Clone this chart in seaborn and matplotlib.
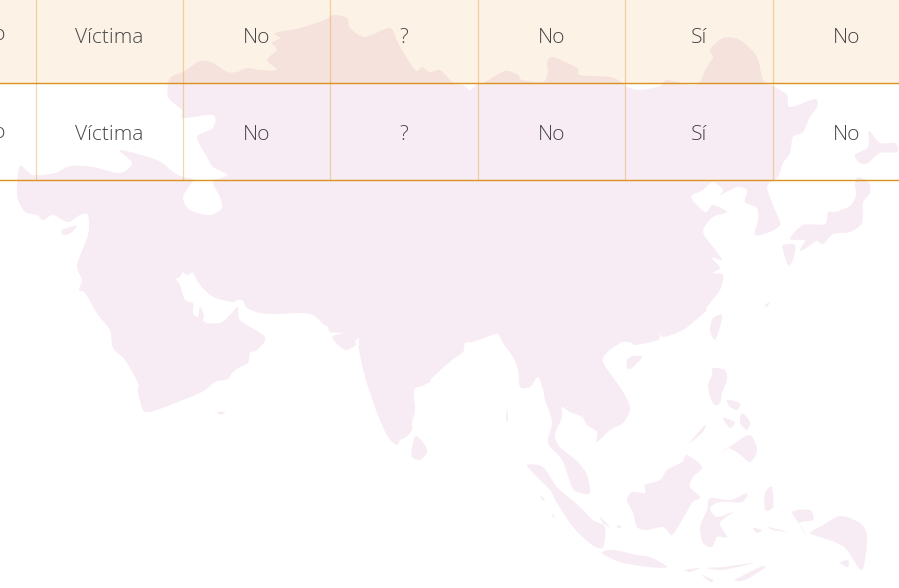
import numpy as np
import matplotlib
matplotlib.use('Agg')
import matplotlib.pyplot as plt
from matplotlib.colors import ListedColormap
from matplotlib.patches import PathPatch
from matplotlib.path import Path
import seaborn as sns

# table contents
row_a = ['', 'Víctima', 'No', '?', 'No', 'Sí', 'No']
row_b = ['', 'Víctima', 'No', '?', 'No', 'Sí', 'No']
row_shade = [[1] * 7, [0] * 7]
cut_label = 'No'

# map outlines, in pixels of the picture
mainland = [(17, 188), (20, 166), (33, 175), (55, 173), (70, 166), (93, 167), (120, 173), (132, 163),
            (120, 150), (157, 160), (173, 172), (183, 177), (193, 180), (183, 197), (190, 210), (210, 215),
            (222, 208), (220, 197), (213, 182), (227, 175), (213, 167), (207, 157), (197, 137), (213, 128),
            (213, 115), (183, 118), (182, 110), (168, 97), (170, 78), (183, 72), (200, 61), (213, 63),
            (227, 72), (237, 72), (247, 68), (260, 70), (277, 70), (267, 60), (277, 50), (272, 43),
            (280, 38), (275, 33), (300, 28), (325, 20), (333, 15), (347, 18), (350, 28), (365, 37),
            (390, 28), (398, 43), (415, 70), (422, 67), (430, 72), (440, 70), (450, 80), (455, 84),
            (463, 85), (470, 90), (476, 85), (485, 82), (505, 71), (518, 75), (522, 80), (543, 82),
            (548, 72), (547, 63), (553, 57), (577, 68), (580, 75), (610, 77), (623, 83), (627, 87),
            (640, 90), (660, 86), (667, 80), (690, 85), (700, 82), (705, 70), (713, 57), (710, 50),
            (723, 38), (740, 40), (757, 57), (763, 80), (775, 87), (787, 95), (790, 107), (815, 99),
            (817, 107), (810, 117), (803, 132), (793, 137), (790, 153), (783, 163), (778, 177), (767, 187),
            (778, 217), (780, 225), (770, 232), (755, 235), (758, 220), (757, 208), (745, 202), (747, 190),
            (737, 187), (720, 195), (723, 190), (713, 182), (703, 190), (691, 197), (705, 212), (713, 205),
            (727, 212), (713, 217), (703, 232), (717, 252), (722, 260), (712, 258), (720, 268), (713, 273),
            (723, 275), (720, 290), (707, 307), (705, 312), (683, 330), (663, 337), (660, 332), (658, 340),
            (635, 345), (632, 343), (623, 342), (610, 350), (603, 362), (622, 390), (630, 408), (623, 423),
            (610, 430), (597, 442), (597, 432), (587, 425), (582, 417), (570, 412), (562, 407), (562, 417),
            (555, 435), (560, 447), (578, 462), (587, 475), (590, 493), (580, 493), (572, 487), (562, 460),
            (548, 443), (552, 422), (545, 400), (543, 390), (538, 377), (530, 387), (520, 387), (518, 370),
            (513, 357), (503, 343), (498, 334), (492, 335), (473, 342), (465, 343), (463, 352), (452, 360),
            (432, 378), (430, 382), (422, 386), (414, 390), (415, 410), (412, 422), (412, 430), (406, 437),
            (400, 440), (397, 445), (388, 437), (377, 413), (365, 377), (359, 350), (359, 338), (355, 342),
            (356, 345), (347, 350), (340, 347), (332, 337), (343, 333), (330, 332), (328, 327), (323, 324),
            (313, 315), (300, 313), (277, 314), (260, 313), (247, 308), (243, 301), (238, 300), (232, 302),
            (213, 297), (200, 285), (193, 273), (187, 275), (183, 272), (180, 277), (176, 279), (180, 285),
            (185, 300), (193, 303), (193, 313), (198, 317), (200, 307), (204, 315), (203, 320), (207, 323),
            (220, 323), (228, 317), (238, 307), (240, 320), (265, 337), (257, 350), (250, 353), (248, 363),
            (240, 367), (232, 373), (228, 379), (215, 382), (200, 393), (157, 410), (148, 412), (143, 410),
            (138, 393), (138, 383), (125, 360), (113, 348), (110, 330), (98, 315), (85, 293), (79, 290),
            (82, 280), (77, 265), (88, 235), (88, 215), (80, 215), (68, 222), (53, 215), (43, 220),
            (37, 215), (25, 212), (18, 200)]
cyprus = [(62, 230), (70, 227), (77, 226), (72, 232), (66, 235), (62, 234)]
sri_lanka = [(416, 436), (425, 445), (427, 453), (420, 460), (412, 457), (412, 447)]
socotra = [(217, 412), (225, 412), (221, 415)]
hokkaido = [(869, 131), (880, 143), (895, 143), (897, 152), (880, 153), (868, 163), (860, 163), (855, 155), (868, 147)]
honshu = [(858, 177), (869, 183), (870, 193), (863, 203), (862, 223), (850, 232), (833, 234), (823, 244), (815, 240),
          (795, 240), (790, 238), (803, 225), (825, 224), (828, 212), (835, 212), (850, 206), (856, 195), (855, 185)]
kyushu = [(783, 245), (795, 245), (793, 260), (788, 265), (783, 250)]
shikoku = [(800, 250), (808, 238), (820, 237), (813, 243), (803, 250)]
taiwan = [(722, 315), (720, 327), (715, 340), (710, 330), (713, 318)]
hainan = [(642, 357), (632, 368), (627, 368), (627, 360), (633, 356)]
luzon = [(713, 368), (725, 370), (727, 380), (722, 393), (720, 403), (715, 405), (710, 397), (708, 385), (712, 375)]
visayas_a = [(723, 418), (735, 422), (730, 428)]
visayas_b = [(742, 413), (750, 422), (747, 430), (740, 423)]
visayas_c = [(727, 400), (740, 403), (737, 410), (730, 407)]
mindanao = [(723, 452), (735, 443), (750, 435), (757, 450), (750, 462), (738, 453), (728, 448)]
palawan = [(690, 442), (705, 425), (703, 432), (690, 443)]
borneo = [(687, 455), (702, 467), (693, 477), (690, 487), (700, 497), (692, 503), (682, 520), (672, 535), (663, 527),
          (647, 530), (637, 527), (633, 513), (627, 500), (632, 492), (645, 493), (645, 485), (660, 480), (667, 470), (682, 462)]
sulawesi = [(710, 498), (730, 500), (747, 493), (742, 502), (720, 502), (710, 508), (717, 517), (733, 512), (720, 523),
            (727, 537), (717, 537), (712, 547), (703, 543), (700, 527), (707, 510)]
sumatra = [(527, 465), (543, 467), (557, 487), (578, 505), (593, 520), (605, 527), (603, 547), (592, 545), (573, 527),
           (557, 503), (550, 490), (537, 477)]
java = [(602, 553), (613, 550), (637, 555), (650, 557), (667, 567), (647, 567), (620, 562)]
new_guinea = [(810, 533), (823, 525), (840, 516), (860, 523), (867, 537), (862, 570), (847, 550), (837, 543), (820, 537)]
birds_head = [(792, 512), (810, 510), (813, 520), (800, 523), (807, 537), (802, 527)]
seram = [(768, 527), (788, 532), (773, 530)]
buru = [(753, 528), (762, 530), (757, 533)]
timor = [(735, 580), (760, 567), (765, 568), (745, 580)]
sumbawa = [(685, 570), (700, 568), (690, 572)]
flores = [(707, 568), (723, 567), (753, 563), (723, 570)]
sumba = [(702, 575), (713, 580), (710, 582)]
halmahera = [(765, 493), (772, 487), (773, 507), (765, 510)]
bangka = [(600, 517), (610, 527), (603, 523)]
belitung = [(617, 525), (622, 527), (618, 528)]
nias = [(540, 495), (545, 500), (542, 500)]
siberut = [(552, 513), (555, 517), (553, 517)]
dolak = [(840, 563), (848, 560), (848, 567)]
okinawa = [(765, 305), (770, 302), (767, 307)]
andaman = [(507, 408), (508, 420), (506, 420)]

land = [mainland, cyprus, sri_lanka, socotra, hokkaido, honshu, kyushu, shikoku, taiwan, hainan,
        luzon, visayas_a, visayas_b, visayas_c, mindanao, palawan, borneo, sulawesi, sumatra, java,
        new_guinea, birds_head, seram, buru, timor, sumbawa, flores, sumba, halmahera, bangka,
        belitung, nias, siberut, dolak, okinawa, andaman]


# closed bezier path through the outline points, so the coast is not angular
def coast_path(shape):
    pts = np.array(shape, dtype=float)
    verts = [pts[0]]
    codes = [Path.MOVETO]
    n = len(pts)
    for i in range(n):
        p0, p1, p2, p3 = pts[i - 1], pts[i], pts[(i + 1) % n], pts[(i + 2) % n]
        verts += [p1 + (p2 - p0) / 7, p2 - (p3 - p1) / 7, p2]
        codes += [Path.CURVE4] * 3
    return Path(verts, codes)


sns.set_theme(style='white')
plt.rcParams['font.family'] = ['Open Sans', 'DejaVu Sans']

W, H = 899, 588
text_style = {'fontsize': 15.1, 'fontweight': 'light', 'color': '#464646'}
fig = plt.figure(figsize=(W / 100, H / 100), dpi=100)

# background map
ax_map = fig.add_axes([0, 0, 1, 1], zorder=0)
ax_map.set_xlim(0, W)
ax_map.set_ylim(H, 0)
ax_map.axis('off')
for shape in land:
    ax_map.add_patch(PathPatch(coast_path(shape), fc='#f7ecf4', ec='none'))

# table on top, seven equal columns (first one runs off the left edge)
cell_w = 147.4
x_left = 35.6 - cell_w
ax = fig.add_axes([x_left / W, 1 - 180 / H, 7 * cell_w / W, 194 / H], zorder=1)
ax.patch.set_alpha(0)
cmap = ListedColormap([(0, 0, 0, 0), (0.93, 0.67, 0.33, 0.15)])
sns.heatmap(np.array(row_shade), annot=np.array([row_a, row_b]), fmt='', cmap=cmap, vmin=0, vmax=1,
            cbar=False, xticklabels=False, yticklabels=False, ax=ax, annot_kws=text_style)
# the font sits a little high in the cell
for t in ax.texts:
    t.set_y(t.get_position()[1] + 0.035)
for k in range(1, 7):
    ax.axvline(k, color='#e3a03c', alpha=0.42, lw=0.9)
for k in [1, 2]:
    ax.axhline(k, color='#d9921f', lw=1.0, clip_on=False)
ax.text(6, 35.5, cut_label, transform=ax_map.transData, ha='right', va='center', **text_style)
ax.text(6, 132.5, cut_label, transform=ax_map.transData, ha='right', va='center', **text_style)

fig.savefig('out.png', dpi=100)
